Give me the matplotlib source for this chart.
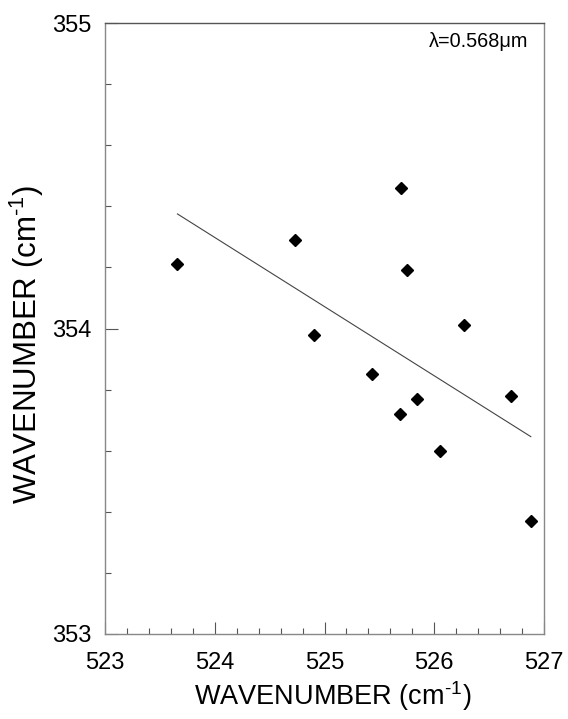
import matplotlib
matplotlib.use("Agg")
import matplotlib.pyplot as plt
from matplotlib.ticker import MultipleLocator

plt.rcParams['font.family'] = ['Liberation Sans', 'DejaVu Sans']
plt.rcParams['mathtext.fontset'] = 'custom'
plt.rcParams['mathtext.rm'] = 'Liberation Sans'
plt.rcParams['mathtext.it'] = 'Liberation Sans'
plt.rcParams['mathtext.bf'] = 'Liberation Sans'

# data
x_vals = [523.66, 524.73, 525.70, 525.75, 524.90, 526.27, 525.43, 525.84, 525.69, 526.70, 526.05, 526.88]
y_vals = [354.21, 354.29, 354.46, 354.19, 353.98, 354.01, 353.85, 353.77, 353.72, 353.78, 353.60, 353.37]
fit_y = [354.375, 353.646]  # fitted line at min(x) and max(x)
x_ticks = [523, 524, 525, 526, 527]
y_ticks = [353, 354, 355]
annotation = "λ=0.568μm"
axis_label = r'WAVENUMBER (cm$^{\text{-1}}$)'

fig = plt.figure(figsize=(5.68, 7.19), dpi=100)
W, H = 568, 719
ax = fig.add_axes([105 / W, 1 - 634 / H, (544 - 105) / W, (634 - 23) / H])

fit_x = [min(x_vals), max(x_vals)]
ax.plot(fit_x, fit_y, color='#444444', lw=0.8)
ax.plot(x_vals, y_vals, linestyle='none', marker='D', ms=6.3, color='black')

ax.set_xlim(523, 527)
ax.set_ylim(353, 355)
ax.set_xticks(x_ticks)
ax.set_yticks(y_ticks)
ax.xaxis.set_minor_locator(MultipleLocator(0.2))
ax.yaxis.set_minor_locator(MultipleLocator(0.2))
ax.tick_params(which='both', direction='in', top=False, right=False, color='#555555', width=0.8)
ax.tick_params(which='major', length=9, labelsize=17)
ax.tick_params(which='minor', length=4)
ax.tick_params(axis='x', which='major', pad=13)
ax.tick_params(axis='y', which='major', pad=10)

for s in ax.spines.values():
    s.set_color('#888888')
    s.set_linewidth(1.0)
ax.spines['top'].set_color('#555555')

ax.set_xlabel(axis_label, fontsize=19.5)
ax.xaxis.label.set_va('baseline')
ax.xaxis.set_label_coords((333 - 105) / 439, (634 - 705) / 611)

ax.set_ylabel(axis_label, fontsize=22.5)
ax.yaxis.label.set_va('baseline')
ax.yaxis.set_label_coords((37 - 105) / 439, (634 - 344) / 611)

ax.text(0.9636, 0.969, annotation, transform=ax.transAxes, ha='right', va='center', fontsize=14.3)

fig.savefig('out.png', dpi=100)
